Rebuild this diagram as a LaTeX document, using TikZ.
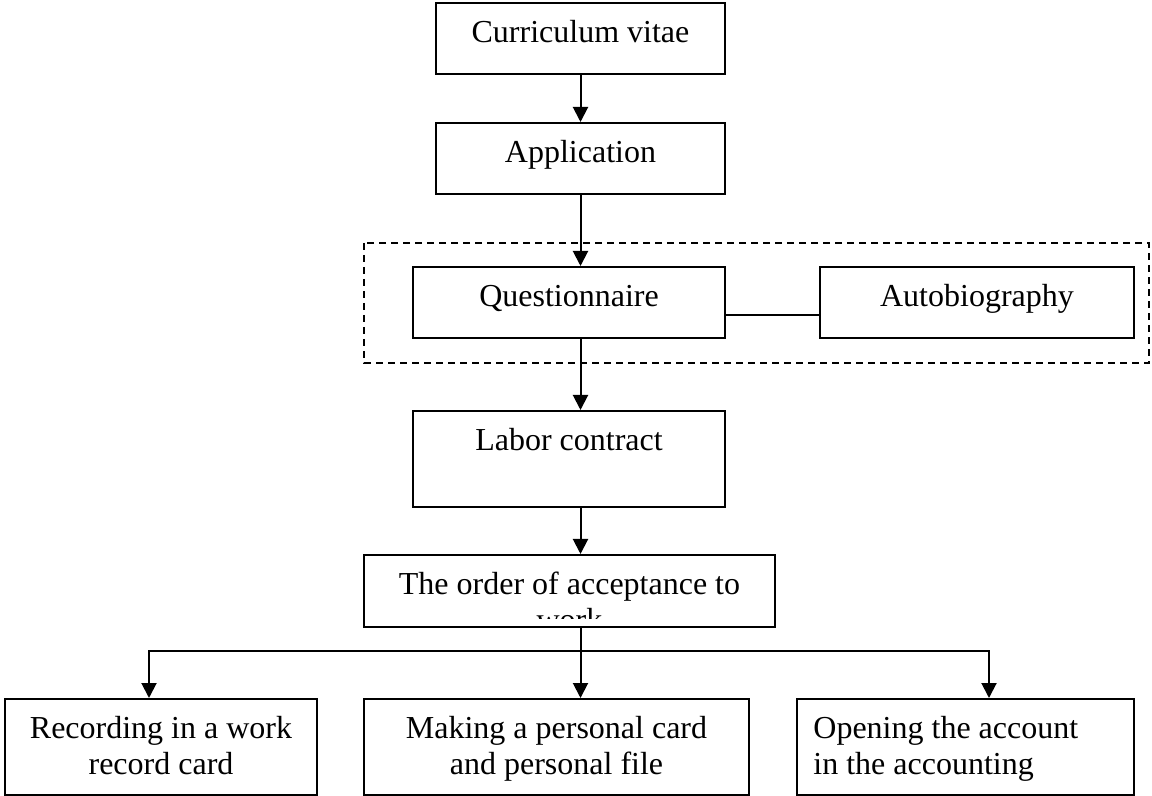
\documentclass[tikz,border=0pt]{standalone}
\usepackage{fontspec}
\setmainfont{Liberation Serif}
\usepackage{tikz}
\usetikzlibrary{positioning}
\usetikzlibrary{calc,arrows.meta}
\tikzstyle{box}=[rectangle,draw,line width=1pt,inner sep=0pt]
\tikzstyle{txt}=[align=center,inner sep=0pt,font=\fontsize{16}{18}\selectfont]
\tikzstyle{edge} = [draw,line width=1pt,-{Triangle[length=7.5pt,width=7.5pt]}]
\tikzstyle{plainedge} = [draw,line width=1pt]
\tikzstyle{group} = [draw,line width=1pt,dash pattern=on 3.5pt off 2.5pt]

\begin{document}
\begin{tikzpicture}[x=0.5pt,y=-0.5pt]

\useasboundingbox (0,0) rectangle (1152,796);

 % dashed frame
 \draw[group] (364,243) rectangle (1149,363);

 %boxes
 \def\u{0.5pt}
 \foreach \x/\y/\w/\h/\name in {580.5/38.5/289/71/cv, 580.5/158.5/289/71/app, 569/302.5/312/71/quest, 977/302.5/314/71/auto, 569/459/312/96/labor, 569.5/591/411/72/order, 161/747/312/96/rec, 556.5/747/385/96/mak, 965.5/747/337/96/open}
        \node[box,minimum width=\w*\u,minimum height=\h*\u] (\name) at (\x,\y) {};

 %texts
 \foreach \name/\label in {cv/Curriculum vitae, app/Application, quest/Questionnaire, auto/Autobiography, labor/Labor contract, rec/{Recording in a work\\record card}, mak/{Making a personal card\\and personal file}}
        \node[txt,below=7.4pt of \name.north] (\name-t) {\strut\label};

 \node[txt,align=left,anchor=north west] (open-t) at ($(open.north west)+(17,14.8)$) {\strut Opening the account\\in the accounting};

 % second line cut off by the box
 \begin{scope}
  \clip (order.north west) rectangle ($(order.south east)+(0,-9)$);
  \node[txt,below=7.4pt of order.north] (order-t) {\strut The order of acceptance to\\work};
 \end{scope}

 %arrows
 \coordinate (fork) at (580.5,651);
 \coordinate (forkL) at (149,651);
 \coordinate (forkR) at (989,651);

 \path[edge] (cv) -- (app);
 \path[edge] (app.south) -- (app.south |- quest.north);
 \path[edge] (app.south |- quest.south) -- (app.south |- labor.north);
 \path[edge] (app.south |- labor.south) -- (app.south |- order.north);
 \path[edge] (app.south |- order.south) -- (fork |- mak.north);
 \path[edge] (fork) -- (forkL) -- (forkL |- rec.north);
 \path[edge] (fork) -- (forkR) -- (forkR |- open.north);

 \path[plainedge] ($(quest.east)+(0,12.5)$) -- ($(auto.west)+(0,12.5)$);

\end{tikzpicture}
\end{document}
